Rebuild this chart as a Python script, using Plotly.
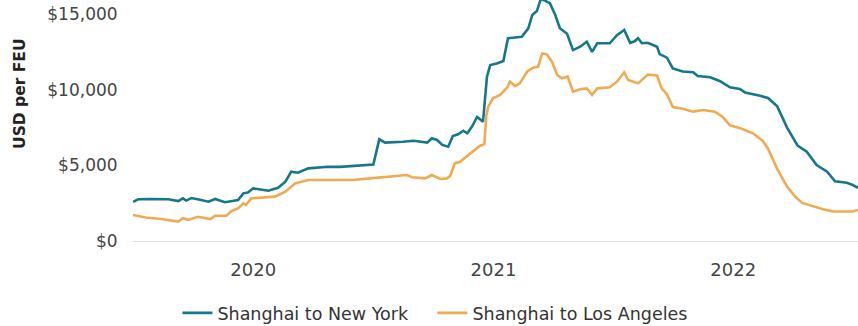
import plotly.graph_objects as go

ny_dates = ["2019-07-02","2019-07-10","2019-07-28","2019-08-25","2019-09-09","2019-09-16","2019-09-21","2019-09-29",
            "2019-10-12","2019-10-25","2019-11-04","2019-11-19","2019-12-09","2019-12-17","2019-12-24","2020-01-01",
            "2020-01-12","2020-01-24","2020-02-08","2020-02-19","2020-02-28","2020-03-09","2020-03-25","2020-04-24",
            "2020-05-12","2020-06-04","2020-06-27","2020-07-02","2020-07-11","2020-07-20","2020-08-16","2020-09-01",
            "2020-09-22","2020-09-29","2020-10-07","2020-10-15","2020-10-24","2020-10-31","2020-11-08","2020-11-16",
            "2020-11-22","2020-11-29","2020-12-07","2020-12-16","2020-12-22","2020-12-27","2021-01-06","2021-01-16",
            "2021-01-23","2021-02-13","2021-02-23","2021-03-01","2021-03-08","2021-03-14","2021-03-20","2021-03-28",
            "2021-04-05","2021-04-12","2021-04-23","2021-05-02","2021-05-13","2021-05-23","2021-05-31","2021-06-08",
            "2021-06-27","2021-07-08","2021-07-19","2021-07-28","2021-08-04","2021-08-09","2021-08-15","2021-08-24",
            "2021-09-07","2021-09-11","2021-09-22","2021-10-01","2021-10-16","2021-11-01","2021-11-08","2021-11-27",
            "2021-12-12","2021-12-27","2022-01-11","2022-01-19","2022-02-11","2022-02-23","2022-03-09","2022-03-24",
            "2022-04-09","2022-04-23","2022-05-08","2022-05-24","2022-06-05","2022-06-23","2022-07-02","2022-07-10"]
ny_values = [2580,2760,2780,2760,2640,2820,2670,2840,
             2720,2600,2780,2560,2700,3150,3200,3480,
             3400,3320,3520,3920,4580,4510,4800,4910,
             4900,4950,5020,5050,6720,6500,6560,6630,
             6500,6790,6680,6350,6230,6940,7050,7290,
             7120,7550,8200,7890,10860,11630,11740,11900,
             13400,13500,14060,14940,15200,16000,15900,15700,
             14940,14060,13700,12620,12840,13170,12500,13070,
             13070,13600,13950,13100,13200,13400,13070,13100,
             12840,12350,12120,11410,11200,11150,10900,10820,
             10560,10160,10050,9820,9600,9450,8900,7500,
             6300,5900,5020,4580,3950,3850,3700,3520]

la_dates = ["2019-07-02","2019-07-21","2019-08-14","2019-09-09","2019-09-16","2019-09-24","2019-10-09","2019-10-28",
            "2019-11-04","2019-11-21","2019-11-29","2019-12-09","2019-12-17","2019-12-21","2019-12-29","2020-02-03",
            "2020-02-19","2020-03-05","2020-03-25","2020-04-24","2020-06-01","2020-06-27","2020-08-22","2020-08-30",
            "2020-09-19","2020-09-29","2020-10-12","2020-10-22","2020-10-27","2020-11-03","2020-11-11","2020-11-22",
            "2020-12-04","2020-12-11","2020-12-18","2020-12-21","2020-12-24","2020-12-31","2021-01-11","2021-01-22",
            "2021-01-26","2021-02-03","2021-02-10","2021-02-21","2021-03-02","2021-03-10","2021-03-16","2021-03-23",
            "2021-03-31","2021-04-08","2021-04-15","2021-04-24","2021-05-02","2021-05-13","2021-05-23","2021-05-31",
            "2021-06-08","2021-06-27","2021-07-08","2021-07-19","2021-07-25","2021-08-09","2021-08-24","2021-09-07",
            "2021-09-14","2021-09-22","2021-10-01","2021-10-16","2021-11-01","2021-11-16","2021-12-04","2021-12-16",
            "2021-12-27","2022-01-14","2022-01-31","2022-02-15","2022-02-23","2022-03-09","2022-03-24","2022-04-05",
            "2022-04-16","2022-05-02","2022-05-18","2022-06-02","2022-07-02","2022-07-10"]
la_values = [1720,1550,1450,1280,1500,1390,1600,1450,
             1670,1670,1980,2160,2490,2380,2820,2930,
             3260,3810,4030,4030,4030,4140,4360,4210,
             4140,4360,4100,4140,4300,5130,5240,5620,
             6010,6280,6400,8300,8880,9430,9650,10160,
             10530,10240,10420,11190,11450,11520,12400,12340,
             11850,10970,10750,10860,9870,10030,10090,9650,
             10090,10160,10530,11150,10640,10420,11000,10940,
             10090,9700,8850,8740,8550,8660,8550,8200,
             7650,7420,7120,6620,6100,4750,3600,2950,
             2520,2300,2100,1960,1950,2050]

series_names = ["Shanghai to New York", "Shanghai to Los Angeles"]
colors = ["#17778a", "#f0aa52"]

y_ticks = [0, 5000, 10000, 15000]
y_tick_labels = ["$0", "$5,000", "$10,000", "$15,000"]
x_ticks = ["2020-01-01", "2021-01-01", "2022-01-01"]
x_tick_labels = ["2020", "2021", "2022"]
y_title = "USD per FEU"

fig = go.Figure()
fig.add_trace(go.Scatter(x=ny_dates, y=ny_values, mode="lines", name=series_names[0],
                         line=dict(color=colors[0], width=2.6)))
fig.add_trace(go.Scatter(x=la_dates, y=la_values, mode="lines", name=series_names[1],
                         line=dict(color=colors[1], width=2.6)))

font_family = "DejaVu Sans, sans-serif"
fig.update_layout(
    width=858, height=326,
    margin=dict(l=133, r=0, t=0, b=85, autoexpand=False),
    paper_bgcolor="white", plot_bgcolor="white",
    font=dict(family=font_family, size=16, color="#444"),
    showlegend=True,
    legend=dict(orientation="h", xref="container", x=0.504, xanchor="center",
                yref="container", y=0.04, yanchor="middle", entrywidth=210,
                font=dict(size=17.5, color="#333"), tracegroupgap=0),
    xaxis=dict(range=["2019-07-02", "2022-07-10"], tickvals=x_ticks, ticktext=x_tick_labels,
               showgrid=False, zeroline=False, showline=False, automargin=False,
               ticks="outside", ticklen=12, tickcolor="rgba(0,0,0,0)",
               tickfont=dict(size=18, color="#444")),
    yaxis=dict(range=[0, 15930], tickvals=y_ticks, ticktext=y_tick_labels,
               showgrid=False, zeroline=True, zerolinecolor="#dddddd", zerolinewidth=1,
               showline=False, automargin=False, ticks="outside", ticklen=11,
               tickcolor="rgba(0,0,0,0)",
               tickfont=dict(size=17, color="#444")),
    annotations=[dict(text="<b>" + y_title + "</b>", textangle=-90, xref="paper", yref="paper",
                      x=-0.156, y=0.61, xanchor="center", yanchor="middle", showarrow=False,
                      font=dict(size=15.5, color="#222"))],
)

fig.write_html("out.html", config={"displayModeBar": False},
               post_script="document.body.style.margin='0';")
